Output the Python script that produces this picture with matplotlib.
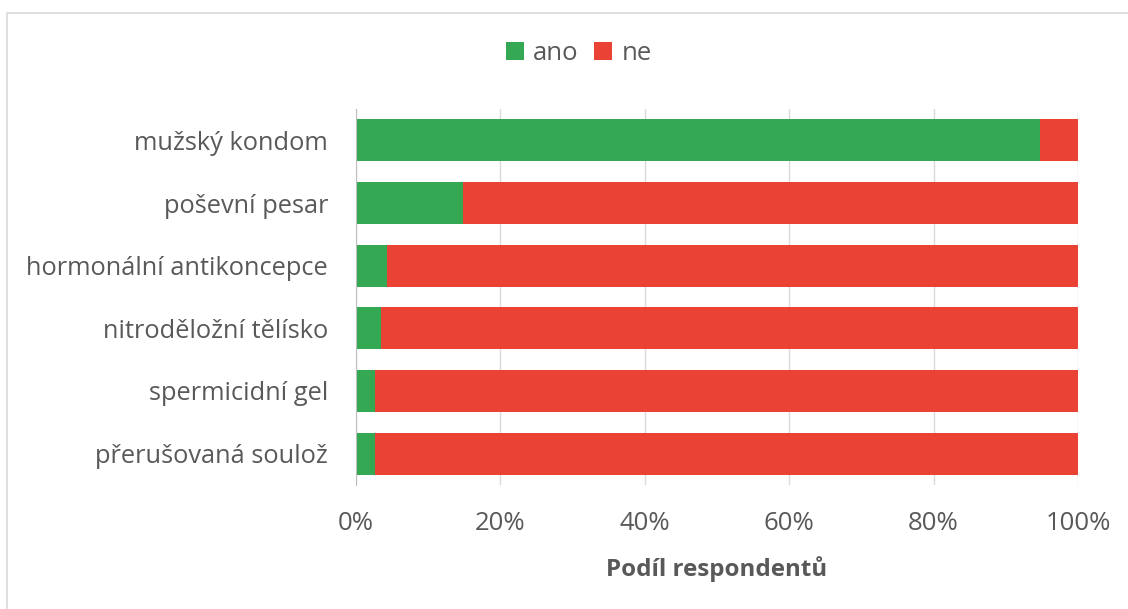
import numpy as np
import matplotlib.pyplot as plt
from matplotlib.patches import Rectangle
from matplotlib.ticker import PercentFormatter

plt.rcParams['font.family'] = ['Open Sans', 'DejaVu Sans']

methods = ["mužský kondom", "poševní pesar", "hormonální antikoncepce",
           "nitroděložní tělísko", "spermicidní gel", "přerušovaná soulož"]
ano = [94.7, 14.8, 4.3, 3.4, 2.6, 2.6]
ne = [100 - a for a in ano]

green = "#34A853"
red = "#EA4335"
text_col = "#595959"

fig = plt.figure(figsize=(11.28, 6.09), dpi=100)
ax = fig.add_axes([356 / 1128, 1 - 485 / 609, 722 / 1128, 376 / 609])

y = np.arange(len(methods))
ax.barh(y, ano, height=0.67, color=green, label="ano", zorder=3)
ax.barh(y, ne, left=ano, height=0.67, color=red, label="ne", zorder=3)

ax.set_xlim(0, 100)
ax.set_ylim(len(methods) - 0.5, -0.5)
ax.set_yticks(y)
ax.set_yticklabels(methods, fontsize=18.3, color=text_col)
ax.set_xticks(np.arange(0, 101, 20))
ax.xaxis.set_major_formatter(PercentFormatter(decimals=0))
ax.tick_params(axis="x", labelsize=18.5, labelcolor=text_col, length=0, pad=19)
ax.tick_params(axis="y", length=0, pad=20)
ax.grid(axis="x", color="#D9D9D9", linewidth=1, zorder=0)
for s in ["top", "right", "bottom"]:
    ax.spines[s].set_visible(False)
ax.spines["left"].set_color("#BFBFBF")
ax.spines["left"].set_zorder(4)

ax.set_xlabel("Podíl respondentů", fontsize=17.4, fontweight="bold",
              color=text_col, labelpad=14)

ax.legend(loc="center", bbox_to_anchor=(579 / 1128, 1 - 53 / 609),
          bbox_transform=fig.transFigure, ncol=2, frameon=False,
          fontsize=18.5, handlelength=0.7, handleheight=0.7,
          handletextpad=0.35, columnspacing=0.6, labelcolor=text_col)

fig.patches.append(Rectangle((6.5 / 1128, -0.1), 1.2, 1 - 12.5 / 609 + 0.1,
                             transform=fig.transFigure, fill=False,
                             edgecolor="#D9D9D9", linewidth=1.2))

fig.savefig("out.png", dpi=100)
